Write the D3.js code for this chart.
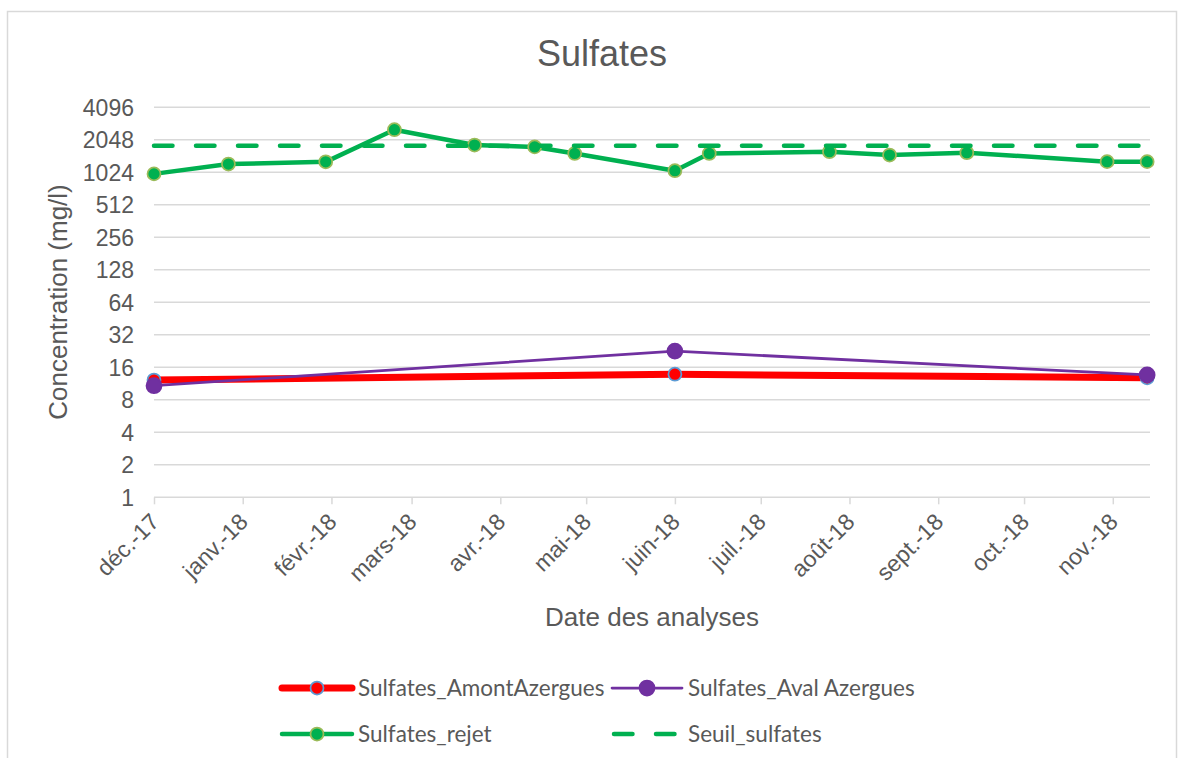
<!DOCTYPE html>
<html>
<head>
<meta charset="utf-8">
<script src="https://cdn.jsdelivr.net/npm/d3@7"></script>
<style>
  body { margin: 0; background: #fff; }
  text { font-family: "Liberation Sans", Arial, sans-serif; fill: #595959; }
  .legend text { font-family: Lato, "Liberation Sans", sans-serif; }
</style>
</head>
<body>
<div id="chart"></div>
<script>

// data (dates of analyses, concentrations in mg/l)
var rejetDates = ["2017-12-01", "2017-12-27", "2018-01-30", "2018-02-23", "2018-03-23", "2018-04-13",
    "2018-04-27", "2018-06-01", "2018-06-13", "2018-07-25", "2018-08-15", "2018-09-11", "2018-10-30", "2018-11-13"];
var rejetValues = [990, 1220, 1280, 2540, 1830, 1760, 1530, 1060, 1530, 1590, 1480, 1555, 1285, 1285];
var seuilValues = [1800, 1800, 1800, 1800, 1800, 1800, 1800, 1800, 1800, 1800, 1800, 1800, 1800, 1800];

var riverDates = ["2017-12-01", "2018-06-01", "2018-11-13"];
var amontValues = [12.2, 13.8, 12.8];
var avalValues = [10.8, 22.6, 13.6];

var yTicks = [1, 2, 4, 8, 16, 32, 64, 128, 256, 512, 1024, 2048, 4096];
var monthLabels = ["déc.-17", "janv.-18", "févr.-18", "mars-18", "avr.-18", "mai-18",
    "juin-18", "juil.-18", "août-18", "sept.-18", "oct.-18", "nov.-18"];

var width = 1184, height = 758;
var parse = d3.timeParse("%Y-%m-%d");

var svg = d3.select("#chart").append("svg")
    .attr("width", width)
    .attr("height", height);

// chart border
svg.append("rect")
    .attr("x", 7.5).attr("y", 11.5)
    .attr("width", 1169).attr("height", 800)
    .attr("fill", "none")
    .attr("stroke", "#d9d9d9")
    .attr("stroke-width", 1.5);

var x = d3.scaleTime()
    .domain([parse("2017-12-01"), parse("2018-11-14")])
    .range([154, 1150]);

var y = d3.scaleLog().base(2)
    .domain([1, 4096])
    .range([497.3, 107.3]);

// gridlines
svg.append("g").selectAll("line")
    .data(yTicks.slice(1))
    .enter().append("line")
    .attr("x1", 154).attr("x2", 1150)
    .attr("y1", function(d) { return y(d); })
    .attr("y2", function(d) { return y(d); })
    .attr("stroke", "#d9d9d9")
    .attr("stroke-width", 1.5);

// y labels
svg.append("g").selectAll("text")
    .data(yTicks)
    .enter().append("text")
    .attr("x", 134)
    .attr("y", function(d) { return y(d); })
    .attr("dy", "0.36em")
    .attr("text-anchor", "end")
    .attr("font-size", 23)
    .text(function(d) { return d; });

// x axis
var months = d3.timeMonth.range(parse("2017-12-01"), parse("2018-11-14"));

var xAxis = d3.axisBottom(x)
    .tickValues(months)
    .tickSize(7)
    .tickFormat(function(d, i) { return monthLabels[i]; });

var gx = svg.append("g")
    .attr("transform", "translate(0,497.3)")
    .call(xAxis);

gx.select(".domain").attr("stroke", "#d9d9d9").attr("stroke-width", 1.5)
    .attr("d", "M154,0H1150");
gx.selectAll(".tick line").attr("stroke", "#d9d9d9").attr("stroke-width", 1.5);
gx.selectAll(".tick text")
    .attr("font-size", 23)
    .attr("font-family", "Liberation Sans, Arial, sans-serif")
    .attr("fill", "#595959")
    .attr("text-anchor", "end")
    .attr("dy", null)
    .attr("y", null)
    .attr("transform", "translate(6,26) rotate(-45)");

// titles
svg.append("text")
    .attr("x", 602).attr("y", 65.5)
    .attr("text-anchor", "middle")
    .attr("font-size", 36)
    .text("Sulfates");

svg.append("text")
    .attr("x", 652).attr("y", 626)
    .attr("text-anchor", "middle")
    .attr("font-size", 26)
    .text("Date des analyses");

svg.append("text")
    .attr("transform", "translate(67,302) rotate(-90)")
    .attr("text-anchor", "middle")
    .attr("font-size", 26)
    .text("Concentration (mg/l)");

var line = d3.line()
    .x(function(d) { return x(d.date); })
    .y(function(d) { return y(d.value); });

function makeSeries(dates, values) {
    return dates.map(function(d, i) { return { date: parse(d), value: values[i] }; });
}

var series = [
    { name: "Sulfates_AmontAzergues", data: makeSeries(riverDates, amontValues),
      color: "#ff0000", width: 7, r: 6.5, fill: "#ff0000", stroke: "#5b9bd5" },
    { name: "Sulfates_Aval Azergues", data: makeSeries(riverDates, avalValues),
      color: "#7030a0", width: 2.75, r: 7.5, fill: "#7030a0", stroke: "#7030a0" },
    { name: "Sulfates_rejet", data: makeSeries(rejetDates, rejetValues),
      color: "#00b050", width: 4.5, r: 6.5, fill: "#00b050", stroke: "#9bbb59" },
    { name: "Seuil_sulfates", data: makeSeries(rejetDates, seuilValues),
      color: "#00b050", width: 4.5, dash: "18.5,23.5" }
];

series.forEach(function(s) {
    var g = svg.append("g");
    g.append("path")
        .datum(s.data)
        .attr("d", line)
        .attr("fill", "none")
        .attr("stroke", s.color)
        .attr("stroke-width", s.width)
        .attr("stroke-linejoin", "round")
        .attr("stroke-linecap", "round")
        .attr("stroke-dasharray", s.dash || null);
    if (s.r) {
        g.selectAll("circle")
            .data(s.data)
            .enter().append("circle")
            .attr("cx", function(d) { return x(d.date); })
            .attr("cy", function(d) { return y(d.value); })
            .attr("r", s.r)
            .attr("fill", s.fill)
            .attr("stroke", s.stroke)
            .attr("stroke-width", 1.75);
    }
});

// legend
var legendPos = [[282, 688], [612, 688], [282, 734], [612, 734]];
var legend = svg.append("g").attr("class", "legend");

series.forEach(function(s, i) {
    var lx = legendPos[i][0], ly = legendPos[i][1];
    var g = legend.append("g").attr("transform", "translate(" + lx + "," + ly + ")");
    g.append("line")
        .attr("x1", s.dash ? 2 : 0).attr("x2", 70)
        .attr("stroke", s.color)
        .attr("stroke-width", s.width)
        .attr("stroke-linecap", "round")
        .attr("stroke-dasharray", s.dash || null);
    if (s.r) {
        g.append("circle")
            .attr("cx", 35)
            .attr("r", s.r)
            .attr("fill", s.fill)
            .attr("stroke", s.stroke)
            .attr("stroke-width", 1.75);
    }
    g.append("text")
        .attr("x", 76)
        .attr("dy", "0.35em")
        .attr("font-size", 22.5)
        .text(s.name);
});

</script>
</body>
</html>
